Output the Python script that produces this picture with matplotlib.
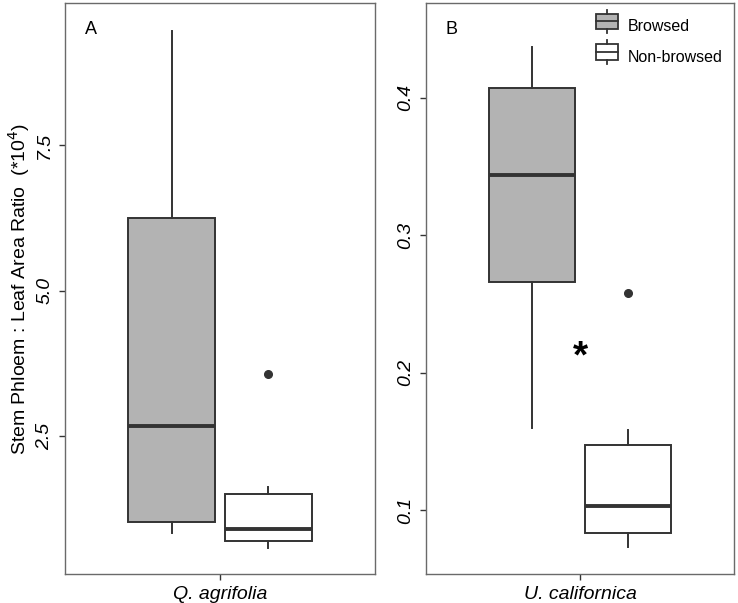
import matplotlib.pyplot as plt
from matplotlib.legend_handler import HandlerBase
from matplotlib.patches import Rectangle
from matplotlib.lines import Line2D

plt.rcParams['font.family'] = ['Liberation Sans', 'DejaVu Sans']

groups = ["Browsed", "Non-browsed"]
fills = ["#b3b3b3", "#ffffff"]
edge = "#333333"

# five-number summaries: whislo, q1, med, q3, whishi
qa_stats = [[0.84, 1.02, 2.67, 6.25, 9.46],
            [0.58, 0.70, 0.90, 1.50, 1.62]]
qa_fliers = [[], [3.57]]
uc_stats = [[0.160, 0.266, 0.344, 0.407, 0.437],
            [0.073, 0.083, 0.103, 0.147, 0.158]]
uc_fliers = [[], [0.258]]

species = ["Q. agrifolia", "U. californica"]
panel_tags = ["A", "B"]
qa_ticks = [2.5, 5.0, 7.5]
uc_ticks = [0.1, 0.2, 0.3, 0.4]
star_y = 0.211


def make_stats(rows, fliers):
    out = []
    for r, f in zip(rows, fliers):
        out.append(dict(whislo=r[0], q1=r[1], med=r[2], q3=r[3], whishi=r[4], fliers=f))
    return out


class BoxHandler(HandlerBase):
    def create_artists(self, legend, orig, xd, yd, w, h, fs, trans):
        fc = orig.get_facecolor()
        cx = xd + w / 2
        r = Rectangle((xd, yd), w, h, facecolor=fc, edgecolor=edge, lw=1.3, transform=trans)
        m = Line2D([xd, xd + w], [yd + h / 2, yd + h / 2], color=edge, lw=1.3, transform=trans)
        t1 = Line2D([cx, cx], [yd + h, yd + h + 3], color=edge, lw=1.3, transform=trans)
        t2 = Line2D([cx, cx], [yd - 3, yd], color=edge, lw=1.3, transform=trans)
        return [r, m, t1, t2]


fig = plt.figure(figsize=(7.38, 6.03), dpi=100)
ax1 = fig.add_axes([65 / 738, 29 / 603, 310 / 738, 571 / 603])
ax2 = fig.add_axes([426 / 738, 29 / 603, 308 / 738, 571 / 603])

panels = [(ax1, qa_stats, qa_fliers, qa_ticks, (0.13, 9.94)),
          (ax2, uc_stats, uc_fliers, uc_ticks, (0.0534, 0.469))]

for i, (ax, st, fl, ticks, lim) in enumerate(panels):
    stats = make_stats(st, fl)
    bp = ax.bxp(stats, positions=[1 - 0.1875, 1 + 0.1875], widths=0.3375,
                patch_artist=True, showcaps=False,
                boxprops=dict(edgecolor=edge, linewidth=1.4),
                medianprops=dict(color=edge, linewidth=2.8),
                whiskerprops=dict(color=edge, linewidth=1.4),
                flierprops=dict(marker='o', markerfacecolor=edge, markeredgecolor=edge,
                                markersize=5.5))
    for patch, c in zip(bp['boxes'], fills):
        patch.set_facecolor(c)
    ax.set_xlim(0.4, 1.6)
    ax.set_ylim(*lim)
    ax.set_xticks([1])
    ax.set_xticklabels([species[i]], style='italic', fontsize=14)
    ax.set_yticks(ticks)
    ax.set_yticklabels([f"{t:.1f}" for t in ticks], style='italic', rotation=90,
                       va='center', fontsize=14)
    ax.tick_params(length=4.5, color=edge, width=1, labelcolor='black', pad=4)
    for s in ax.spines.values():
        s.set_color('#6a6a6a')
        s.set_linewidth(1.0)
    ax.text(0.083, 0.954, panel_tags[i], transform=ax.transAxes, fontsize=13,
            ha='center', va='center')

ax1.set_ylabel("Stem Phloem : Leaf Area Ratio  (*10$^{4}$)", fontsize=14, labelpad=3)
ax2.text(1, star_y, "*", fontsize=28, fontweight='bold', ha='center', va='center')

handles = [Rectangle((0, 0), 1, 1, facecolor=c) for c in fills]
ax2.legend(handles, groups, handler_map={Rectangle: BoxHandler()}, loc='upper right',
           bbox_to_anchor=(1.0, 0.993), frameon=False, fontsize=11.5,
           handlelength=1.4, handleheight=1.1, borderaxespad=0.3,
           labelspacing=0.9, handletextpad=0.6)

fig.savefig("out.png", dpi=100)
